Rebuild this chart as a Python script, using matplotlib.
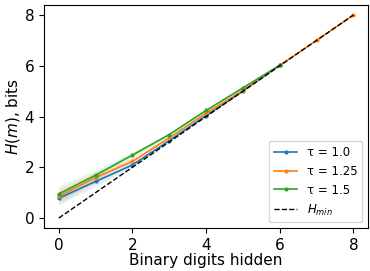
import numpy as np
import matplotlib
matplotlib.use("Agg")
import matplotlib.pyplot as plt

# digits hidden
x_short = [0, 1, 2, 3, 4, 5, 6]
x_long = [0, 1, 2, 3, 4, 5, 6, 7, 8]

# mean entropy per temperature
h_tau10 = [0.78, 1.44, 2.09, 3.05, 4.04, 5.00, 6.02]
h_tau125 = [0.85, 1.60, 2.23, 3.16, 4.13, 5.03, 6.02, 7.00, 8.00]
h_tau15 = [0.95, 1.69, 2.48, 3.29, 4.24, 5.13, 6.02]

# spread (std) for shaded band
sd_tau10 = [0.25, 0.18, 0.10, 0.06, 0.04, 0.02, 0.01]
sd_tau125 = [0.28, 0.20, 0.12, 0.06, 0.04, 0.02, 0.01, 0.0, 0.0]
sd_tau15 = [0.30, 0.20, 0.12, 0.06, 0.04, 0.02, 0.01]

h_min = [0, 8]
x_min = [0, 8]

series = [
    (x_short, h_tau10, sd_tau10, "τ = 1.0", "#1f77b4"),
    (x_long, h_tau125, sd_tau125, "τ = 1.25", "#ff7f0e"),
    (x_short, h_tau15, sd_tau15, "τ = 1.5", "#2ca02c"),
]

fig = plt.figure(figsize=(3.7, 2.71), dpi=100)
ax = fig.add_axes([0.119, 0.158, 0.876, 0.824])

for xs, ys, sd, lab, c in series:
    xs = np.array(xs)
    ys = np.array(ys)
    sd = np.array(sd)
    ax.plot(xs, ys, color=c, marker=".", markersize=4, linewidth=1.2, label=lab)
    ax.fill_between(xs, ys - sd, ys + sd, color=c, alpha=0.12, linewidth=0)

ax.plot(x_min, h_min, "k--", linewidth=1.0, label="$H_{min}$")

ax.set_xlim(-0.4, 8.4)
ax.set_ylim(-0.4, 8.4)
ax.set_xticks([0, 2, 4, 6, 8])
ax.set_yticks([0, 2, 4, 6, 8])
ax.tick_params(labelsize=11)
ax.set_xlabel("Binary digits hidden", fontsize=11, labelpad=0)
ax.set_ylabel("$H(m)$, bits", fontsize=11, labelpad=2)
ax.legend(loc="lower right", fontsize=8.5)

plt.savefig("out.png", dpi=100)
